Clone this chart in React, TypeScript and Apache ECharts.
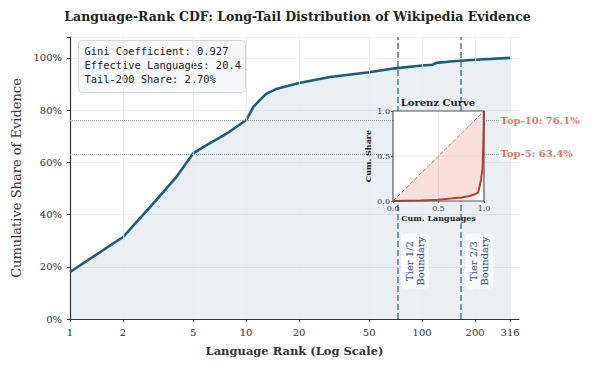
import React, { useEffect, useRef } from 'react';
import * as echarts from 'echarts';

// ---- data ----
const ranks = [1, 2, 3, 4, 5, 6, 7, 8, 9, 10, 11, 12, 13, 15, 20, 30, 50, 70, 100, 115, 120, 150, 200, 316];
const cdf = [0.18, 0.314, 0.446, 0.542, 0.634, 0.667, 0.693, 0.716, 0.74, 0.761, 0.812, 0.839, 0.862, 0.882, 0.904, 0.927, 0.945, 0.96, 0.971, 0.974, 0.981, 0.987, 0.993, 1.0];
const xTickRanks = [1, 2, 5, 10, 20, 50, 100, 200, 316];
const xGridRanks = [2, 5, 10, 20, 50, 100, 200, 316];
const tierBoundaries = [72, 167];
const tierLabels = ['Tier 1/2\nBoundary', 'Tier 2/3\nBoundary'];
const tierLabelRanks = [91, 211];
const tierLabelY = 0.222;
const topLabels = ['Top-10: 76.1%', 'Top-5: 63.4%'];
const topValues = [0.761, 0.634];
const topLabelRank = 270;
const statsLines = ['Gini Coefficient: 0.927', 'Effective Languages: 20.4', 'Tail-200 Share: 2.70%'];
const lorenzX = [0, 0.3, 0.5, 0.633, 0.75, 0.842, 0.9, 0.937, 0.968, 0.984, 0.987, 0.9905, 0.9937, 0.9968, 1];
const lorenzY = [0, 0.006, 0.015, 0.027, 0.04, 0.056, 0.075, 0.096, 0.239, 0.366, 0.46, 0.556, 0.686, 0.82, 1];

const SERIF = 'DejaVu Serif';
const MONO = 'DejaVu Sans Mono';
const LINE_COLOR = '#1b5e7a';
const RED = '#e74c3c';

export default function App() {
  const ref = useRef<HTMLDivElement>(null);
  useEffect(() => {
    document.body.style.margin = '0';
    if (!ref.current) return;
    const chart = echarts.init(ref.current, undefined, { renderer: 'svg' });
    const lg = (r: number) => Math.log10(r);
    const mainData = ranks.map((r, i) => [lg(r), cdf[i]]);
    const lorenzData = lorenzX.map((x, i) => [x, lorenzY[i]]);

    const option: any = {
      animation: false,
      backgroundColor: '#fff',
      title: [
        {
          text: 'Language-Rank CDF: Long-Tail Distribution of Wikipedia Evidence',
          left: 'center', top: 10, padding: 0,
          textStyle: { fontFamily: SERIF, fontWeight: 'bold', fontSize: 12.5, color: '#222' },
        },
        {
          text: 'Lorenz Curve', left: 438, textAlign: 'center', top: 97, padding: 0, z: 20,
          textStyle: { fontFamily: SERIF, fontWeight: 'bold', fontSize: 10, color: '#222' },
        },
      ],
      grid: [
        { left: 70, top: 37, width: 449, height: 282, show: false },
        { left: 393, top: 111, width: 91, height: 90, show: false },
      ],
      xAxis: [
        {
          gridIndex: 0, type: 'value', min: 0, max: 2.55,
          name: 'Language Rank (Log Scale)', nameLocation: 'middle', nameGap: 26,
          nameTextStyle: { fontFamily: SERIF, fontWeight: 'bold', fontSize: 11.5, color: '#333' },
          axisLine: { show: true, lineStyle: { color: '#333', width: 1.2 } },
          axisTick: { show: true, length: 3, customValues: xTickRanks.map(lg), lineStyle: { color: '#333' } },
          axisLabel: {
            customValues: xTickRanks.map(lg), margin: 8,
            fontFamily: SERIF, fontSize: 10, color: '#333',
            formatter: (v: number) => String(Math.round(Math.pow(10, v))),
          },
          splitLine: { show: false },
        },
        {
          gridIndex: 1, type: 'value', min: 0, max: 1, interval: 0.5, z: 10,
          name: 'Cum. Languages', nameLocation: 'middle', nameGap: 13,
          nameTextStyle: { fontFamily: SERIF, fontWeight: 'bold', fontSize: 8, color: '#222' },
          axisLine: { show: false },
          axisTick: { show: true, length: 2, lineStyle: { color: '#555' } },
          axisLabel: { fontFamily: SERIF, fontSize: 8, color: '#333', margin: 3, formatter: (v: number) => v.toFixed(1) },
          splitLine: { show: false },
        },
      ],
      yAxis: [
        {
          gridIndex: 0, type: 'value', min: 0, max: 1.08, interval: 0.2,
          name: 'Cumulative Share of Evidence', nameLocation: 'middle', nameGap: 45,
          nameTextStyle: { fontFamily: SERIF, fontWeight: 'normal', fontSize: 13, color: '#333' },
          axisLine: { show: true, lineStyle: { color: '#333', width: 1.2 } },
          axisTick: { show: true, length: 3, lineStyle: { color: '#333' } },
          axisLabel: {
            margin: 8, fontFamily: SERIF, fontSize: 10, color: '#333',
            formatter: (v: number) => (Math.abs(v * 5 - Math.round(v * 5)) > 1e-6 ? '' : Math.round(v * 100) + '%'),
          },
          splitLine: { show: true, lineStyle: { color: '#ececec', width: 0.8 } },
        },
        {
          gridIndex: 1, type: 'value', min: 0, max: 1, interval: 0.5, z: 10,
          name: 'Cum. Share', nameLocation: 'middle', nameGap: 21,
          nameTextStyle: { fontFamily: SERIF, fontWeight: 'bold', fontSize: 8, color: '#222' },
          axisLine: { show: false },
          axisTick: { show: true, length: 2, lineStyle: { color: '#555' } },
          axisLabel: { fontFamily: SERIF, fontSize: 8, color: '#333', margin: 3, formatter: (v: number) => v.toFixed(1) },
          splitLine: { show: false },
        },
      ],
      graphic: [
        {
          type: 'group', left: 78, top: 40, z: 30,
          children: [
            { type: 'rect', shape: { x: 0, y: 0, width: 167, height: 52, r: 4 }, style: { fill: '#f7f8fa', stroke: '#d6d6d6', lineWidth: 1 } },
            ...statsLines.map((t, i) => ({
              type: 'text', x: 6, y: 10 + i * 14,
              style: { text: t, font: `10.4px "${MONO}"`, fill: '#222', textVerticalAlign: 'middle' },
            })),
          ],
        },
      ],
      series: [
        // vertical grid lines (under the fill)
        {
          type: 'line', xAxisIndex: 0, yAxisIndex: 0, data: [], z: 1, silent: true,
          markLine: {
            silent: true, symbol: ['none', 'none'], label: { show: false },
            lineStyle: { color: '#e8e8e8', type: 'solid', width: 0.8 },
            data: xGridRanks.map((r) => ({ xAxis: lg(r) })),
          },
        },
        {
          type: 'line', xAxisIndex: 0, yAxisIndex: 0, data: mainData, z: 2,
          symbol: 'none', smooth: false,
          lineStyle: { color: LINE_COLOR, width: 2.6 },
          areaStyle: { color: 'rgba(27,94,132,0.14)' },
          markLine: {
            silent: true, symbol: ['none', 'none'], label: { show: false },
            data: [
              ...topValues.map((v) => ({ yAxis: v, lineStyle: { color: '#999', type: 'dotted', width: 1 } })),
              ...tierBoundaries.map((r) => ({ xAxis: lg(r), lineStyle: { color: '#4a74c4', type: 'dashed', width: 1.5 } })),
            ],
          },
        },
        // inset background with grid lines
        {
          type: 'custom', xAxisIndex: 1, yAxisIndex: 1, z: 5, silent: true,
          data: [[0, 0]],
          renderItem: (_p: any, api: any) => {
            const tl = api.coord([0, 1]);
            const br = api.coord([1, 0]);
            const mid = api.coord([0.5, 0.5]);
            return {
              type: 'group',
              children: [
                { type: 'rect', shape: { x: tl[0], y: tl[1], width: br[0] - tl[0], height: br[1] - tl[1] }, style: { fill: '#fff', stroke: 'none' } },
                { type: 'line', shape: { x1: mid[0], y1: tl[1], x2: mid[0], y2: br[1] }, style: { stroke: '#e6e6e6', lineWidth: 0.8 } },
                { type: 'line', shape: { x1: tl[0], y1: mid[1], x2: br[0], y2: mid[1] }, style: { stroke: '#e6e6e6', lineWidth: 0.8 } },
              ],
            };
          },
        },
        // Lorenz fill between diagonal and curve
        {
          type: 'custom', xAxisIndex: 1, yAxisIndex: 1, z: 6, silent: true,
          data: [[0, 0]],
          renderItem: (_p: any, api: any) => ({
            type: 'polygon',
            shape: { points: lorenzData.map((p) => api.coord(p)) },
            style: { fill: 'rgba(231,76,60,0.18)' },
          }),
        },
        {
          type: 'line', xAxisIndex: 1, yAxisIndex: 1, z: 7, symbol: 'none',
          data: [[0, 0], [1, 1]],
          lineStyle: { color: '#888', type: 'dashed', width: 1 },
        },
        {
          type: 'line', xAxisIndex: 1, yAxisIndex: 1, z: 8, symbol: 'none',
          data: lorenzData, lineStyle: { color: '#c0392b', width: 2 },
        },
        // inset frame on top
        {
          type: 'custom', xAxisIndex: 1, yAxisIndex: 1, z: 9, silent: true,
          data: [[0, 0]],
          renderItem: (_p: any, api: any) => {
            const tl = api.coord([0, 1]);
            const br = api.coord([1, 0]);
            return { type: 'rect', shape: { x: tl[0], y: tl[1], width: br[0] - tl[0], height: br[1] - tl[1] }, style: { fill: 'none', stroke: '#555', lineWidth: 1.2 } };
          },
        },
        // annotations
        {
          type: 'scatter', xAxisIndex: 0, yAxisIndex: 0, z: 12, symbolSize: 1, silent: true,
          itemStyle: { color: 'rgba(0,0,0,0)' },
          data: [
            ...topLabels.map((t, i) => ({
              value: [lg(topLabelRank), topValues[i]],
              label: {
                show: true, position: 'right', distance: 0, formatter: t,
                fontFamily: SERIF, fontWeight: 'bold', fontSize: 10, color: RED,
                backgroundColor: 'rgba(255,255,255,0.9)', padding: [2, 2], borderRadius: 2,
              },
            })),
            ...tierLabels.map((t, i) => ({
              value: [lg(tierLabelRanks[i]), tierLabelY],
              label: {
                show: true, position: 'inside', rotate: 90, formatter: t,
                fontFamily: SERIF, fontSize: 10, color: '#0f2f80', lineHeight: 11,
                textBorderColor: 'rgba(15,47,128,0.35)', textBorderWidth: 0.4,
                backgroundColor: 'rgba(255,255,255,0.92)', padding: [3, 3], borderRadius: 3, align: 'center',
              },
            })),
          ],
        },
      ],
    };
    chart.setOption(option);
    return () => chart.dispose();
  }, []);
  return <div ref={ref} style={{ width: 595, height: 370 }} />;
}
